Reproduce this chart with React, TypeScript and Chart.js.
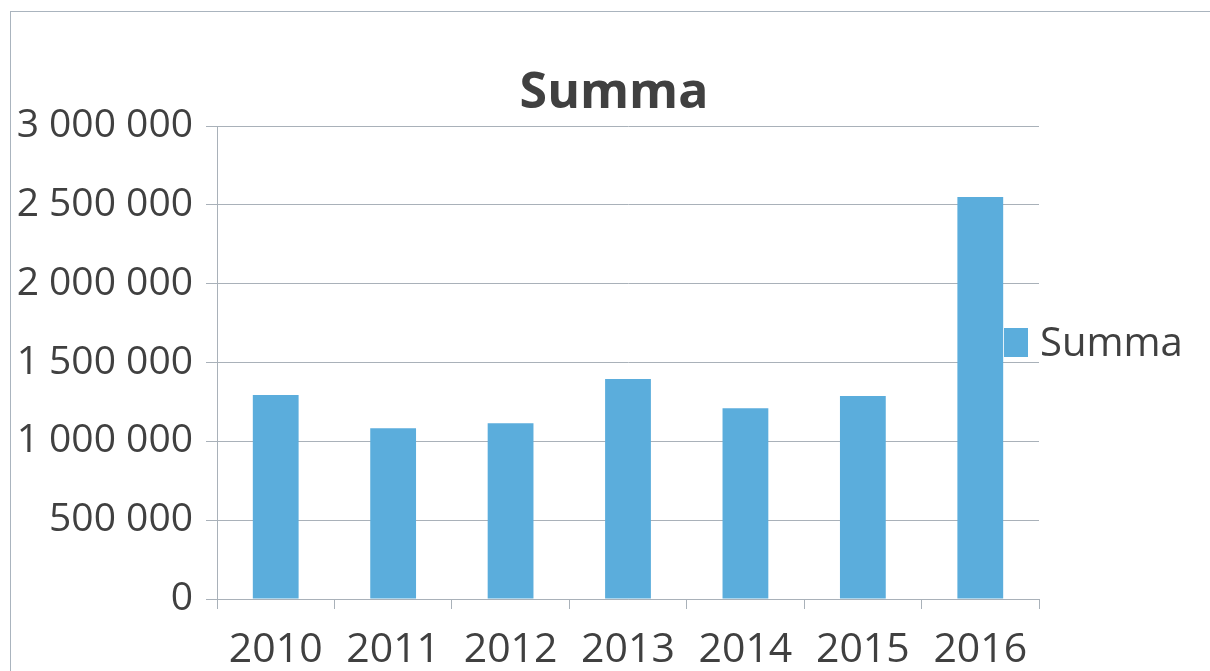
import React, { useEffect, useRef } from 'react';
import { Chart, registerables } from 'chart.js';

Chart.register(...registerables);

const categories: string[] = ['2010', '2011', '2012', '2013', '2014', '2015', '2016'];
const summaValues: number[] = [1294000, 1083000, 1115000, 1396000, 1210000, 1288000, 2549000];
const seriesLabel = 'Summa';
const chartTitle = 'Summa';
const yMin = 0;
const yMax = 3000000;
const yStep = 500000;

const BAR_COLOR = '#5BADDC';
const TEXT_COLOR = '#404040';
const GRID_COLOR = '#a9b1b9';
const FONT = '"Open Sans", "Liberation Sans", sans-serif';

const formatNumber = (v: number) =>
  String(Math.round(v)).replace(/\B(?=(\d{3})+(?!\d))/g, ' ');

const sideLegend = {
  id: 'sideLegend',
  afterDraw(chart: any) {
    const { ctx, chartArea } = chart;
    const ds = chart.data.datasets[0];
    const boxX = chartArea.right - 35;
    const boxY = chartArea.top + 202;
    const boxW = 24;
    const boxH = 29;
    ctx.save();
    ctx.fillStyle = ds.backgroundColor;
    ctx.fillRect(boxX, boxY, boxW, boxH);
    ctx.font = `40px ${FONT}`;
    ctx.fillStyle = TEXT_COLOR;
    ctx.textBaseline = 'middle';
    ctx.textAlign = 'left';
    ctx.fillText(ds.label, boxX + boxW + 12, boxY + boxH / 2 + 2);
    ctx.restore();
  },
};

export default function App() {
  const canvasRef = useRef<HTMLCanvasElement | null>(null);

  useEffect(() => {
    const canvas = canvasRef.current;
    if (!canvas) return;
    const chart = new Chart(canvas, {
      type: 'bar',
      data: {
        labels: categories,
        datasets: [
          {
            label: seriesLabel,
            data: summaValues,
            backgroundColor: BAR_COLOR,
            borderWidth: 0,
            categoryPercentage: 1,
            barPercentage: 0.39,
            yAxisID: 'y',
          },
        ],
      },
      options: {
        responsive: false,
        animation: false,
        layout: { padding: { left: 18, right: 0, top: 0, bottom: 0 } },
        plugins: {
          legend: { display: false },
          tooltip: { enabled: false },
          title: {
            display: true,
            text: chartTitle,
            color: TEXT_COLOR,
            font: { family: FONT, size: 50, weight: 'bold', lineHeight: 1.2 },
            padding: { top: 64, bottom: 2 },
          },
        },
        scales: {
          x: {
            offset: true,
            grid: {
              offset: true,
              drawOnChartArea: false,
              drawTicks: true,
              tickLength: 10,
              color: GRID_COLOR,
              lineWidth: 1,
            },
            border: { display: true, color: GRID_COLOR, width: 1 },
            ticks: {
              color: TEXT_COLOR,
              font: { family: FONT, size: 41 },
              padding: 17,
              maxRotation: 0,
              autoSkip: false,
            },
            afterFit: (scale: any) => {
              scale.height = 81;
            },
          },
          y: {
            position: 'left',
            min: yMin,
            max: yMax,
            grid: {
              color: GRID_COLOR,
              lineWidth: 1,
              drawTicks: true,
              tickLength: 11,
            },
            border: { display: true, color: GRID_COLOR, width: 1 },
            ticks: {
              stepSize: yStep,
              color: TEXT_COLOR,
              font: { family: FONT, size: 39 },
              padding: 13,
              callback: (v: any) => formatNumber(Number(v)),
            },
            afterFit: (scale: any) => {
              scale.width = 199;
            },
          },
          legendSpace: {
            type: 'linear',
            position: 'right',
            display: true,
            min: yMin,
            max: yMax,
            grid: { display: false },
            border: { display: false },
            ticks: { display: false },
            afterFit: (scale: any) => {
              scale.width = 171;
            },
          },
        },
      },
      plugins: [sideLegend],
    });
    return () => chart.destroy();
  }, []);

  return (
    <div
      style={{
        position: 'absolute',
        left: 0,
        top: 0,
        width: 1210,
        height: 671,
        overflow: 'hidden',
        background: '#ffffff',
      }}
    >
      <div
        style={{
          position: 'absolute',
          left: 10,
          top: 11,
          width: 1300,
          height: 800,
          borderLeft: '1px solid #aab4be',
          borderTop: '1px solid #aab4be',
        }}
      />
      <canvas
        ref={canvasRef}
        width={1210}
        height={680}
        style={{ position: 'absolute', left: 0, top: 0, width: 1210, height: 680 }}
      />
    </div>
  );
}
